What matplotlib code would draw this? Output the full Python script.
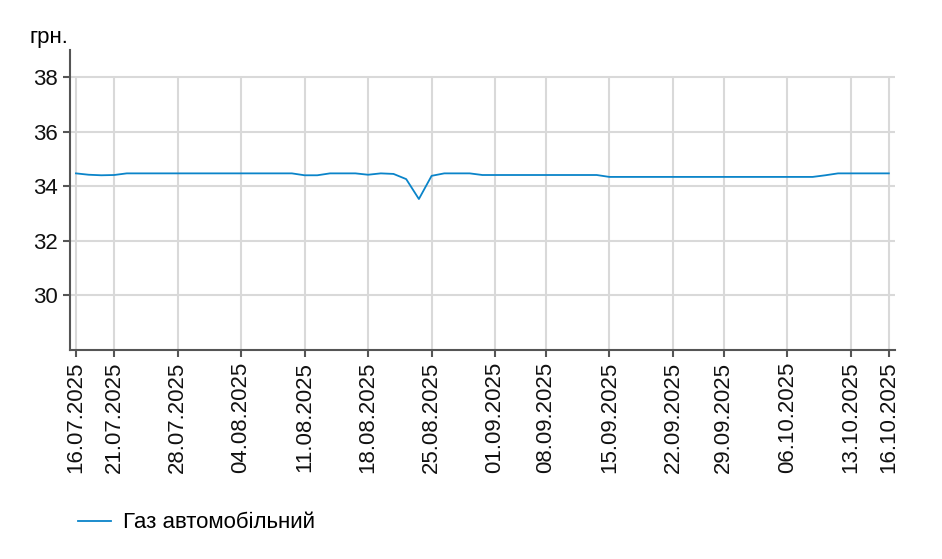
import matplotlib
matplotlib.use("Agg")
import matplotlib.pyplot as plt
import pandas as pd

plt.rcParams['font.family'] = ['Liberation Sans', 'DejaVu Sans']

# trading days shown on the chart (two days absent in the source)
dates = pd.bdate_range('2025-07-16', '2025-10-16')
dates = dates.drop(pd.to_datetime(['2025-09-05', '2025-09-26']))

# price, UAH
gas = ([34.47, 34.42, 34.40, 34.41] + [34.47] * 14 + [34.40, 34.40]
       + [34.47] * 3 + [34.42, 34.47, 34.45, 34.26, 33.53, 34.38]
       + [34.47] * 3 + [34.41] * 10 + [34.34] * 17 + [34.40] + [34.47] * 5)

series_name = 'Газ автомобільний'
unit = 'грн.'
yticks = [30, 32, 34, 36, 38]

labels = [d.strftime('%d.%m.%Y') for d in dates]
x = list(range(len(dates)))
tick_idx = [i for i, d in enumerate(dates)
            if i == 0 or i == len(dates) - 1 or d.weekday() == 0]

fig = plt.figure(figsize=(9.42, 5.59), dpi=100)
ax = fig.add_axes([0.0743, 0.374, 0.876, 0.537])

grid_c = '#d9d9d9'
for yv in yticks:
    ax.axhline(yv, color=grid_c, lw=1.5, zorder=0)
ax.vlines(tick_idx, 28, 38, color=grid_c, lw=1.5, zorder=0)

ax.plot(x, gas, color='#0a84c9', lw=1.3, label=series_name, zorder=3)

ax.set_xlim(-0.47, len(dates) - 0.5)
ax.set_ylim(28, 39)
ax.set_yticks(yticks)
ax.set_xticks(tick_idx)
ax.set_xticklabels([labels[i] for i in tick_idx], rotation=90)

for s in ['top', 'right']:
    ax.spines[s].set_visible(False)
for s in ['left', 'bottom']:
    ax.spines[s].set_color('#555555')
    ax.spines[s].set_linewidth(1.5)
ax.tick_params(axis='both', colors='#555555', labelcolor='#111111',
               labelsize=16, width=1.5, length=5)

fig.text(0.031, 0.915, unit, fontsize=16, ha='left', va='bottom')

fig.legend(loc='lower left', bbox_to_anchor=(0.062, 0.01), frameon=False,
           fontsize=16, handlelength=1.45, handletextpad=0.55)

fig.savefig('out.png', dpi=100)
